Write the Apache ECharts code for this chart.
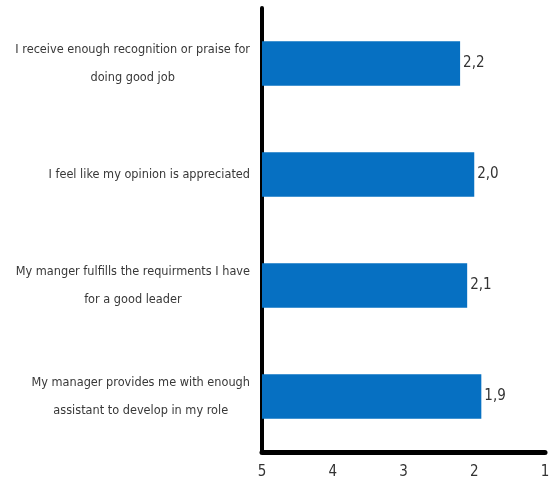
<!DOCTYPE html>
<html><head><meta charset="utf-8">
<script src="https://cdn.jsdelivr.net/npm/echarts@6/dist/echarts.min.js"></script>
<style>html,body{margin:0;padding:0;background:#fff}#c{width:558px;height:489px}</style>
</head><body><div id="c"></div>
<script>
const categories = [
  ["I receive enough recognition or praise for", "doing good job"],
  ["I feel like my opinion is appreciated"],
  ["My manger fulfills the requirments I have", "for a good leader"],
  ["My manager provides me with enough", "assistant to develop in my role"]
];
const values = [2.2, 2.0, 2.1, 1.9];
const axisTicks = [5, 4, 3, 2, 1];
const scaleStart = 5;

const FONT = '"Liberation Sans Narrow", "DejaVu Sans Condensed", "Liberation Sans", sans-serif';
const chart = echarts.init(document.getElementById('c'));
chart.setOption({
  animation: false,
  grid: { left: 262, right: 13, top: 8, bottom: 37, containLabel: false },
  xAxis: {
    type: 'value', inverse: true, min: 1, max: 5, interval: 1,
    axisLine: { show: true, lineStyle: { color: '#000', width: 5, cap: 'round' } },
    axisTick: { show: false }, splitLine: { show: false },
    axisLabel: { margin: 13, fontSize: 15, color: '#333', fontFamily: FONT,
      formatter: v => axisTicks.includes(v) ? String(v) : '' }
  },
  yAxis: {
    type: 'category', inverse: true,
    data: categories.map((c, i) => String(i)),
    axisLine: { show: true, lineStyle: { color: '#000', width: 4 } },
    axisTick: { show: false },
    axisLabel: {
      margin: 12, align: 'right', fontSize: 12.6, color: '#383838', fontFamily: FONT, lineHeight: 28,
      formatter: (v) => categories[+v].map(l => '{a|' + l + '}').join('\n'),
      rich: { a: { align: 'center', fontSize: 12.6, color: '#383838', fontFamily: FONT, lineHeight: 28 } }
    }
  },
  series: [{
    type: 'custom',
    data: values.map((v, i) => [v, i]),
    encode: { x: 0, y: 1 },
    renderItem: function (params, api) {
      const v = api.value(0), cat = api.value(1);
      const end = api.coord([v, cat]);
      const start = api.coord([scaleStart, cat]);
      const h = api.size([0, 1])[1] * 0.4;
      return {
        type: 'group',
        children: [
          { type: 'rect', shape: { x: start[0], y: end[1] - h / 2, width: end[0] - start[0], height: h },
            style: { fill: '#0670C2' } },
          { type: 'text', x: end[0] + 3, y: end[1],
            style: { text: v.toFixed(1).replace('.', ','), fill: '#333', fontSize: 15, fontFamily: FONT,
              verticalAlign: 'middle', align: 'left' } }
        ]
      };
    }
  }]
});
</script></body></html>
